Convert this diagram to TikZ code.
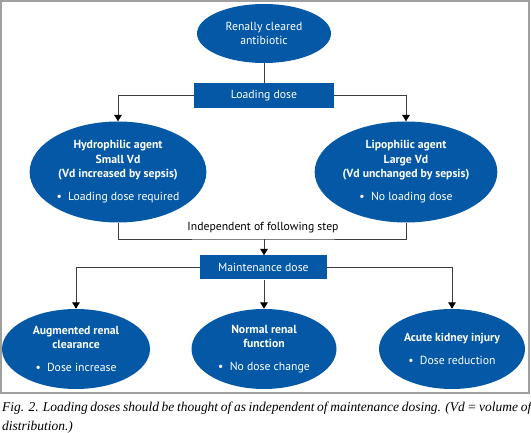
\documentclass[tikz,border=0pt]{standalone}
\usepackage{fontspec}
\setmainfont{PT Sans}
\newfontfamily\capfont{Liberation Serif}
\usetikzlibrary{
  shapes.geometric,
  arrows.meta,
  positioning, calc
}
\usepackage{xcolor}
\definecolor{nodeblue}{RGB}{4,88,166}
\definecolor{framegray}{RGB}{160,160,160}
\definecolor{linegray}{RGB}{60,60,60}

\begin{document}
\begin{tikzpicture}[
  font=\fontsize{10}{12.3}\selectfont,
  >={Triangle[width=6.5pt,length=5.5pt]},
  %--- blue shapes ---
  blueell/.style={
    ellipse, fill=nodeblue, draw=none,
    text=white, align=center, inner sep=1pt
  },
  bluebox/.style={
    rectangle, fill=nodeblue, draw=none,
    text=white, align=center, inner sep=2pt
  },
  %--- connector styles ---
  link/.style={
    draw=linegray, line width=0.8pt
  },
  arr/.style={
    link, -{Triangle[width=6.5pt,length=5.5pt,color=black]}
  }
]
\useasboundingbox (0,0) rectangle (15.93,12.99);

%------------------------------------------------------------------
%  Frame
%------------------------------------------------------------------
\draw[framegray, line width=1.4pt] (0.03,1.2) rectangle (15.87,12.96);

%------------------------------------------------------------------
%  Nodes  (top to bottom)
%------------------------------------------------------------------
\node[blueell, minimum width=4.02cm, minimum height=1.77cm]
  (renal) at (7.92, 11.985) {Renally cleared\\antibiotic};

\node[bluebox, minimum width=4.2cm, minimum height=0.75cm]
  (load) at (7.92, 10.125) {Loading dose};

\node[blueell, minimum width=5.28cm, minimum height=3.03cm]
  (hydro) at (3.54, 7.83)
  {\textbf{Hydrophilic agent}\\\textbf{Small Vd}\\\textbf{(Vd increased by sepsis)}\\[7.5pt]
   •~~Loading dose required};

\node[blueell, minimum width=5.34cm, minimum height=3.03cm]
  (lipo) at (12.18, 7.83)
  {\textbf{Lipophilic agent}\\\textbf{Large Vd}\\\textbf{(Vd unchanged by sepsis)}\\[7.5pt]
   •~~No loading dose};

\node[bluebox, minimum width=3.81cm, minimum height=0.72cm]
  (maint) at (7.9, 4.965) {Maintenance dose};

\coordinate (join) at (7.92, 5.82);
\node (indep) at (7.89, 6.15) {Independent of following step};

\node[blueell, minimum width=4.44cm, minimum height=2.4cm]
  (arc) at (2.28, 2.52)
  {\textbf{Augmented renal}\\\textbf{clearance}\\[7.5pt]•~~Dose increase};

\node[blueell, minimum width=4.35cm, minimum height=2.4cm]
  (normal) at (7.92, 2.52)
  {\textbf{Normal renal}\\\textbf{function}\\[7.5pt]•~~No dose change};

\node[blueell, minimum width=4.38cm, minimum height=2.4cm]
  (aki) at (13.56, 2.52)
  {\textbf{Acute kidney injury}\\[7.5pt]•~~Dose reduction};

%------------------------------------------------------------------
%  Connectors
%------------------------------------------------------------------
\draw[link] (renal) -- (load);
\draw[arr] (load.west) -| (hydro.north);
\draw[arr] (load.east) -| (lipo.north);

\draw[link] (hydro.south) |- (join) -| (lipo.south);
\draw[arr] (join) -- (maint.north -| join);

\draw[arr] (maint.west) -| (arc.north);
\draw[arr] (maint.south -| normal.north) -- (normal.north);
\draw[arr] (maint.east) -| (aki.north);

%------------------------------------------------------------------
%  Caption
%------------------------------------------------------------------
\node[anchor=north west, inner sep=0pt, text width=15.87cm, align=justify,
      font=\capfont\itshape\fontsize{11.5}{16.5}\selectfont]
  (caption) at (0.06, 0.95)
  {Fig. 2. Loading doses should be thought of as independent of maintenance dosing. (Vd = volume of\linebreak distribution.)};

\end{tikzpicture}
\end{document}
